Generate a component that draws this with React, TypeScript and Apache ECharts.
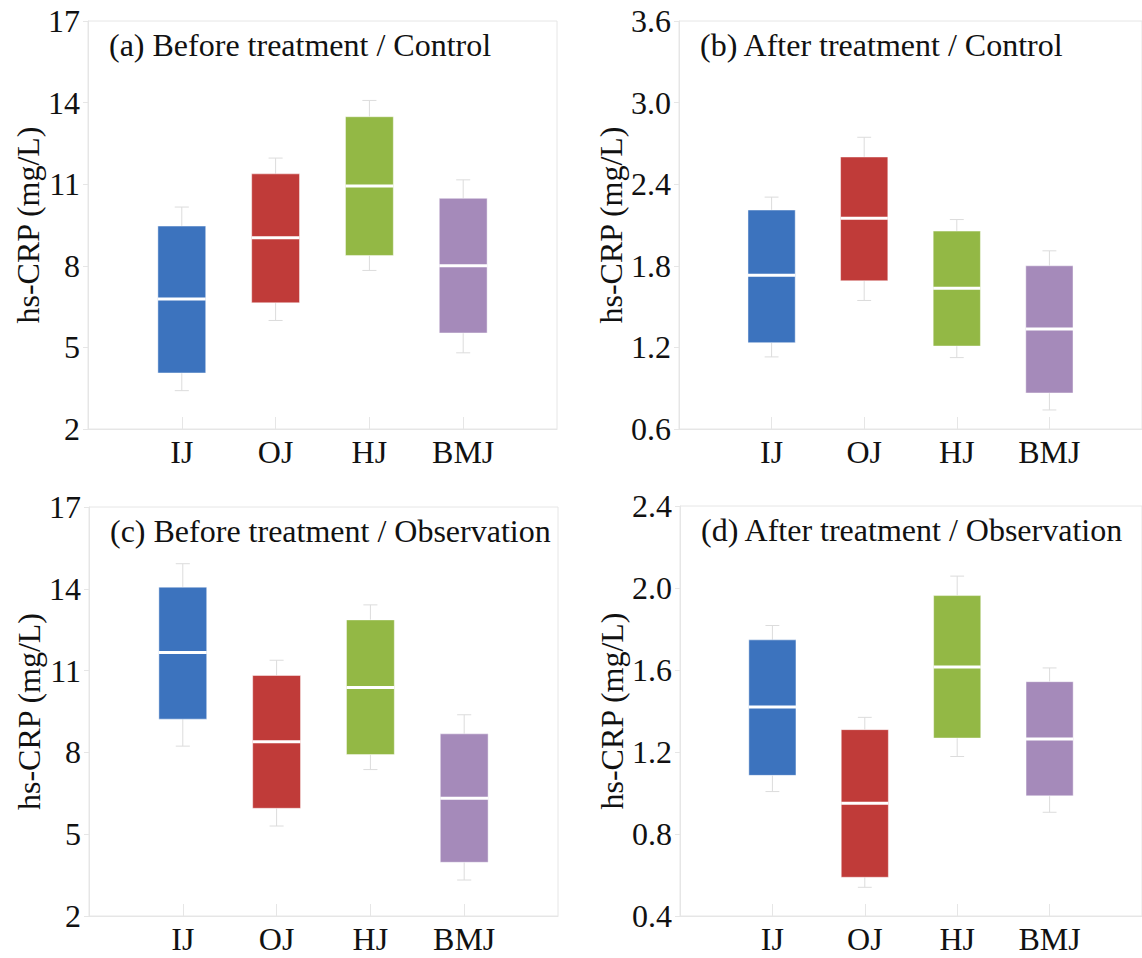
import React, { useEffect, useRef } from "react";
import * as echarts from "echarts";

// ---------- data ----------
const CATEGORIES = ["IJ", "OJ", "HJ", "BMJ"];
const COLORS = ["#3c73be", "#c03b39", "#93b845", "#a58aba"];

// each entry: [min, Q1, median, Q3, max]
const BEFORE_CONTROL = [
  [3.41, 4.06, 6.78, 9.46, 10.16],
  [5.99, 6.64, 9.03, 11.38, 11.96],
  [7.83, 8.38, 10.93, 13.48, 14.08],
  [4.8, 5.53, 8.0, 10.48, 11.16],
];
const AFTER_CONTROL = [
  [1.13, 1.235, 1.73, 2.21, 2.305],
  [1.545, 1.69, 2.15, 2.6, 2.745],
  [1.125, 1.21, 1.635, 2.055, 2.14],
  [0.74, 0.865, 1.335, 1.8, 1.91],
];
const BEFORE_OBSERVATION = [
  [8.23, 9.22, 11.66, 14.06, 14.92],
  [5.3, 5.95, 8.39, 10.82, 11.38],
  [7.37, 7.92, 10.38, 12.86, 13.41],
  [3.32, 3.97, 6.32, 8.68, 9.38],
];
const AFTER_OBSERVATION = [
  [1.007, 1.086, 1.42, 1.747, 1.817],
  [0.54, 0.589, 0.95, 1.309, 1.369],
  [1.178, 1.268, 1.615, 1.963, 2.058],
  [0.906, 0.986, 1.263, 1.543, 1.61],
];

const TICKS_BEFORE = [2, 5, 8, 11, 14, 17];
const TICKS_AFTER_CONTROL = [0.6, 1.2, 1.8, 2.4, 3.0, 3.6];
const TICKS_AFTER_OBSERVATION = [0.4, 0.8, 1.2, 1.6, 2.0, 2.4];

const TITLES = [
  "(a) Before treatment / Control",
  "(b) After treatment / Control",
  "(c) Before treatment / Observation",
  "(d) After treatment / Observation",
];
const Y_NAME = "hs-CRP (mg/L)";

// ---------- layout / style ----------
const FONT = '"Liberation Serif", "Times New Roman", serif';
const GRIDS = [
  { left: 88, top: 21, width: 469, height: 408 },
  { left: 679, top: 21, width: 470, height: 408 },
  { left: 89, top: 507, width: 469, height: 409 },
  { left: 680, top: 506, width: 470, height: 410 },
];
const FRAME = "#e6e6e6";
const WHISKER = "#dcdcdc";
const BOX_FRAC = 0.51;
const CAP_FRAC = 0.15;

function buildOption() {
  const panels = [
    { data: BEFORE_CONTROL, ticks: TICKS_BEFORE, dec: 0 },
    { data: AFTER_CONTROL, ticks: TICKS_AFTER_CONTROL, dec: 1 },
    { data: BEFORE_OBSERVATION, ticks: TICKS_BEFORE, dec: 0 },
    { data: AFTER_OBSERVATION, ticks: TICKS_AFTER_OBSERVATION, dec: 1 },
  ];

  const grid = GRIDS.map((g) => ({
    ...g,
    show: true,
    borderColor: FRAME,
    borderWidth: 1,
    backgroundColor: "transparent",
    containLabel: false,
  }));

  const xAxis = panels.map((_, i) => ({
    type: "value",
    gridIndex: i,
    min: 0,
    max: CATEGORIES.length + 1,
    splitLine: { show: false },
    axisLine: { show: true, lineStyle: { color: FRAME, width: 1 } },
    axisTick: {
      show: true,
      inside: true,
      length: 12,
      lineStyle: { color: FRAME, width: 1 },
      customValues: CATEGORIES.map((_, k) => k + 1),
    },
    axisLabel: {
      show: true,
      margin: 7,
      fontSize: 32,
      fontFamily: FONT,
      color: "#111",
      customValues: CATEGORIES.map((_, k) => k + 1),
      formatter: (v: number) => CATEGORIES[Math.round(v) - 1] ?? "",
    },
  }));

  const yAxis = panels.map((p, i) => ({
    type: "value",
    gridIndex: i,
    min: p.ticks[0],
    max: p.ticks[p.ticks.length - 1],
    name: Y_NAME,
    nameLocation: "middle",
    nameGap: 43,
    nameRotate: 90,
    nameTextStyle: { fontSize: 32, fontFamily: FONT, color: "#111" },
    splitLine: { show: false },
    axisLine: { show: true, lineStyle: { color: FRAME, width: 1 } },
    axisTick: {
      show: true,
      inside: false,
      length: 5,
      lineStyle: { color: FRAME, width: 1 },
      customValues: p.ticks,
    },
    axisLabel: {
      show: true,
      margin: 8,
      fontSize: 32,
      fontFamily: FONT,
      color: "#111",
      customValues: p.ticks,
      formatter: (v: number) => v.toFixed(p.dec),
    },
  }));

  const series = panels.map((p, i) => ({
    type: "custom",
    xAxisIndex: i,
    yAxisIndex: i,
    encode: { x: 0, y: [1, 2, 3, 4, 5] },
    data: p.data.map((d, k) => [k + 1, ...d]),
    renderItem: (params: any, api: any) => {
      const x = api.value(0);
      const lo = api.coord([x, api.value(1)]);
      const q1 = api.coord([x, api.value(2)]);
      const med = api.coord([x, api.value(3)]);
      const q3 = api.coord([x, api.value(4)]);
      const hi = api.coord([x, api.value(5)]);
      const bw = api.size([BOX_FRAC, 0])[0];
      const cw = api.size([CAP_FRAC, 0])[0];
      const cx = lo[0];
      const color = COLORS[params.dataIndex % COLORS.length];
      const wStyle = { stroke: WHISKER, lineWidth: 1 };
      return {
        type: "group",
        children: [
          { type: "line", shape: { x1: cx, y1: hi[1], x2: cx, y2: q3[1] }, style: wStyle },
          { type: "line", shape: { x1: cx, y1: q1[1], x2: cx, y2: lo[1] }, style: wStyle },
          { type: "line", shape: { x1: cx - cw / 2, y1: hi[1], x2: cx + cw / 2, y2: hi[1] }, style: wStyle },
          { type: "line", shape: { x1: cx - cw / 2, y1: lo[1], x2: cx + cw / 2, y2: lo[1] }, style: wStyle },
          {
            type: "rect",
            shape: { x: cx - bw / 2, y: q3[1], width: bw, height: q1[1] - q3[1] },
            style: { fill: color, stroke: "rgba(255,255,255,0.45)", lineWidth: 1 },
          },
          {
            type: "line",
            shape: { x1: cx - bw / 2, y1: med[1], x2: cx + bw / 2, y2: med[1] },
            style: { stroke: "#ffffff", lineWidth: 3 },
          },
        ],
      };
    },
  }));

  const title = TITLES.map((t, i) => ({
    text: t,
    left: GRIDS[i].left + 21,
    top: GRIDS[i].top + 8,
    padding: 0,
    textStyle: { fontSize: 32, fontWeight: "normal", fontFamily: FONT, color: "#111" },
  }));

  return {
    animation: false,
    backgroundColor: "#ffffff",
    title,
    grid,
    xAxis,
    yAxis,
    series,
  };
}

export default function App() {
  const ref = useRef<HTMLDivElement>(null);
  useEffect(() => {
    if (!ref.current) return;
    const chart = echarts.init(ref.current, undefined, { renderer: "svg" });
    chart.setOption(buildOption() as any);
    return () => chart.dispose();
  }, []);
  return (
    <div
      ref={ref}
      style={{ position: "fixed", left: 0, top: 0, width: 1142, height: 958, background: "#fff" }}
    />
  );
}
